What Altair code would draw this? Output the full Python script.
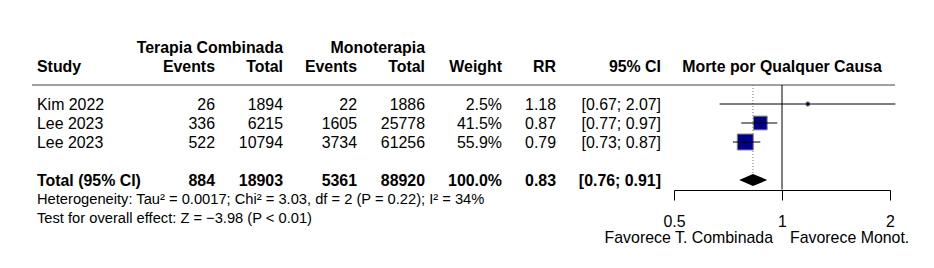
import altair as alt
import pandas as pd

# ---------------- data ----------------
studies = ["Kim 2022", "Lee 2023", "Lee 2023"]
tc_events = [26, 336, 522]
tc_total = [1894, 6215, 10794]
mono_events = [22, 1605, 3734]
mono_total = [1886, 25778, 61256]
weights = [2.5, 41.5, 55.9]
rr = [1.18, 0.87, 0.79]
ci_low = [0.67, 0.77, 0.73]
ci_high = [2.07, 0.97, 0.87]

total_label = "Total (95% CI)"
total_tc_events = 884
total_tc_total = 18903
total_mono_events = 5361
total_mono_total = 88920
total_weight = 100.0
total_rr = 0.83
total_ci_low = 0.76
total_ci_high = 0.91

het_text = "Heterogeneity: Tau² = 0.0017; Chi² = 3.03, df = 2 (P = 0.22); I² = 34%"
test_text = "Test for overall effect: Z = −3.98 (P < 0.01)"
x_ticks = [0.5, 1, 2]
null_effect = 1.0
favours_left = "Favorece T. Combinada"
favours_right = "Favorece Monot."
plot_title = "Morte por Qualquer Causa"
group_headers = ["Terapia Combinada", "Monoterapia"]
col_headers = ["Study", "Events", "Total", "Events", "Total", "Weight", "RR", "95% CI"]

# ---------------- layout / style ----------------
FONT = "Liberation Sans"
FS = 15.9
FS_SMALL = 14.7
ROW_HEADER1, ROW_HEADER2, ROW_SEP = -3, -2, -1
ROW_TOTAL, ROW_HET, ROW_TEST, ROW_FAV = 4, 5, 6, 7
ROW_AXIS = 4.5
DIAMOND_HALF = 0.32

YSCALE = alt.Scale(domain=[-3, 7], range=[47, 237], nice=False, zero=False)
XSCALE = alt.Scale(type="log", domain=[0.5, 2], range=[674, 890], nice=False)
XAXIS = alt.Axis(values=x_ticks, format="~g", grid=False, title=None,
                 domainColor="black", tickColor="black", tickSize=10,
                 domainWidth=1, tickWidth=1, labelFont=FONT, labelFontSize=FS,
                 labelColor="black", labelPadding=13, offset=-78,
                 labelFlush=False, labelOverlap=False)


def X(field):
    return alt.X(field, type="quantitative", scale=XSCALE, axis=XAXIS)


def Y(field="row"):
    return alt.Y(field, type="quantitative", scale=YSCALE, axis=None)


# table data
study_df = pd.DataFrame({
    "study": studies,
    "tce": [str(v) for v in tc_events],
    "tct": [str(v) for v in tc_total],
    "moe": [str(v) for v in mono_events],
    "mot": [str(v) for v in mono_total],
    "wt": [f"{w:.1f}%" for w in weights],
    "rr_s": [f"{v:.2f}" for v in rr],
    "ci_s": [f"[{l:.2f}; {h:.2f}]" for l, h in zip(ci_low, ci_high)],
    "rr": rr, "lo": ci_low, "hi": ci_high, "weight": weights,
    "row": list(range(len(studies))),
})

total_df = pd.DataFrame({
    "study": [total_label],
    "tce": [str(total_tc_events)],
    "tct": [str(total_tc_total)],
    "moe": [str(total_mono_events)],
    "mot": [str(total_mono_total)],
    "wt": [f"{total_weight:.1f}%"],
    "rr_s": [f"{total_rr:.2f}"],
    "ci_s": [f"[{total_ci_low:.2f}; {total_ci_high:.2f}]"],
    "row": [ROW_TOTAL],
})

columns = [  # field, x pixel, align
    ("study", 37, "left"),
    ("tce", 215, "right"),
    ("tct", 283, "right"),
    ("moe", 357, "right"),
    ("mot", 425, "right"),
    ("wt", 502, "right"),
    ("rr_s", 556, "right"),
    ("ci_s", 661, "right"),
]

layers = []


def text_layer(df, field, x, align, bold, size=FS):
    return alt.Chart(df).mark_text(
        align=align, baseline="middle", font=FONT, fontSize=size,
        fontWeight="bold" if bold else "normal", color="black", dy=1
    ).encode(x=alt.value(x), y=Y(), text=alt.Text(f"{field}:N"))


# headers
hdr_df = pd.DataFrame({"label": col_headers, "row": [ROW_HEADER2] * len(col_headers)})
for i, (field, x, align) in enumerate(columns):
    layers.append(text_layer(hdr_df.iloc[[i]], "label", x, align, True))
grp_df = pd.DataFrame({"label": group_headers, "row": [ROW_HEADER1] * 2})
layers.append(text_layer(grp_df.iloc[[0]], "label", 283, "right", True))
layers.append(text_layer(grp_df.iloc[[1]], "label", 425, "right", True))

# table body and total
for field, x, align in columns:
    layers.append(text_layer(study_df, field, x, align, False))
    layers.append(text_layer(total_df, field, x, align, True))

# heterogeneity text
het_df = pd.DataFrame({"label": [het_text, test_text], "row": [ROW_HET, ROW_TEST]})
layers.append(text_layer(het_df, "label", 37, "left", False, FS_SMALL))

# separator line
sep_df = pd.DataFrame({"row": [ROW_SEP]})
layers.append(alt.Chart(sep_df).mark_rule(color="#808080", strokeWidth=1.6).encode(
    x=alt.value(32), x2=alt.value(895), y=Y()))

# null effect line (carries the axis)
ref_df = pd.DataFrame({"x": [null_effect], "row": [ROW_SEP], "row2": [ROW_AXIS]})
layers.append(alt.Chart(ref_df).mark_rule(color="black", strokeWidth=1).encode(
    x=X("x"), y=Y(), y2=alt.Y2("row2")))

# pooled estimate dotted line
pool_df = pd.DataFrame({"x": [total_rr], "row": [ROW_SEP], "row2": [ROW_TOTAL - DIAMOND_HALF]})
layers.append(alt.Chart(pool_df).mark_rule(color="#777777", strokeWidth=1, strokeDash=[1, 2]).encode(
    x=X("x"), y=Y(), y2=alt.Y2("row2")))

# squares
layers.append(alt.Chart(study_df).mark_square(
    color="#00008B", fill="#00008B", stroke="#888888", strokeWidth=1, opacity=1, filled=True
).encode(
    x=X("rr"), y=Y(),
    size=alt.Size("weight:Q", scale=alt.Scale(domain=[0, 55.9], range=[0, 256]), legend=None)))

# CI lines
layers.append(alt.Chart(study_df).mark_rule(color="black", strokeWidth=1).encode(
    x=X("lo"), x2=alt.X2("hi"), y=Y()))

# point estimate ticks
layers.append(alt.Chart(study_df).mark_tick(color="black", thickness=1, size=5, orient="vertical").encode(
    x=X("rr"), y=Y()))

# diamond
dia_df = pd.DataFrame({
    "x": [total_ci_low, total_rr, total_ci_high],
    "row": [ROW_TOTAL, ROW_TOTAL - DIAMOND_HALF, ROW_TOTAL],
    "row2": [ROW_TOTAL, ROW_TOTAL + DIAMOND_HALF, ROW_TOTAL],
})
layers.append(alt.Chart(dia_df).mark_area(color="black", opacity=1).encode(
    x=X("x"), y=Y(), y2=alt.Y2("row2")))

# plot title and favours labels
pt_df = pd.DataFrame({"x": [null_effect], "label": [plot_title], "row": [ROW_HEADER2]})
layers.append(alt.Chart(pt_df).mark_text(
    align="center", baseline="middle", font=FONT, fontSize=FS, fontWeight="bold", color="black", dy=1
).encode(x=X("x"), y=Y(), text="label:N"))

fav_df = pd.DataFrame({"x": [null_effect, null_effect], "label": [favours_left, favours_right],
                       "row": [ROW_FAV, ROW_FAV]})
layers.append(alt.Chart(fav_df.iloc[[0]]).mark_text(
    align="right", baseline="middle", font=FONT, fontSize=FS, color="black", dx=-9, dy=1
).encode(x=X("x"), y=Y(), text="label:N"))
layers.append(alt.Chart(fav_df.iloc[[1]]).mark_text(
    align="left", baseline="middle", font=FONT, fontSize=FS, color="black", dx=8, dy=1
).encode(x=X("x"), y=Y(), text="label:N"))

chart = alt.layer(*layers).properties(
    width=934, height=268,
    autosize=alt.AutoSizeParams(type="none"),
    padding=0,
    background="white",
).configure_view(stroke=None)

chart.save("out.html", embed_options={"renderer": "svg", "actions": False})
